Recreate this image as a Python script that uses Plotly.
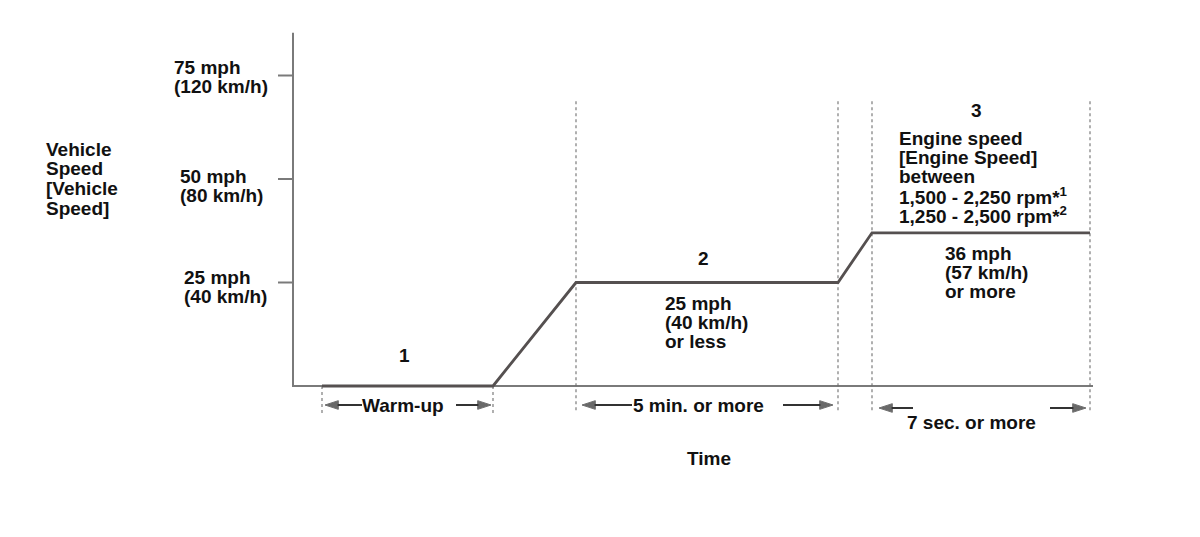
import plotly.graph_objects as go

# ---------------- data ----------------
# time axis in arbitrary units (0 = y axis), speed in mph
profile_time = [29, 200, 283, 545, 579, 797]
profile_speed = [0, 0, 25, 25, 37, 37]

short_guides = [29, 200]             # phase 1 boundaries (drawn only below the axis)
tall_guides = [283, 545, 579, 797]   # phase 2 / 3 boundaries
guide_top = 68.8
guide_bottom = -6.5

axis_x_end = 800
axis_y_end = 85.3

tick_values = [75, 50, 25]
tick_labels = [["75 mph", "(120 km/h)"], ["50 mph", "(80 km/h)"], ["25 mph", "(40 km/h)"]]

y_title = ["Vehicle", "Speed", "[Vehicle", "Speed]"]
x_title = "Time"

phase_numbers = ["1", "2", "3"]
phase2_text = ["25 mph", "(40 km/h)", "or less"]
phase3_text = ["Engine speed", "[Engine Speed]", "between",
               "1,500 - 2,250 rpm*<sup>1</sup>", "1,250 - 2,500 rpm*<sup>2</sup>"]
phase3_speed = ["36 mph", "(57 km/h)", "or more"]
duration_labels = ["Warm-up", "5 min. or more", "7 sec. or more"]

# ---------------- layout helpers ----------------
PAGE_OFF = 8                      # default body margin of the html page
W, H = 1200 - 2 * PAGE_OFF, 537 - 2 * PAGE_OFF
X0, Y0 = 293 - PAGE_OFF, 386 - PAGE_OFF   # figure pixel of the origin
PX_PER_MPH = 4.14
FONT = "Liberation Sans, Arial, sans-serif"
FS = 19
TXT = "#111111"
LINE = "#555050"
AXIS = "#7a7a7a"
GUIDE = "#6f6f6f"


def dx(px):  # page pixel -> data x
    return px - PAGE_OFF - X0


def dy(py):  # page pixel -> data y
    return (Y0 - (py - PAGE_OFF)) / PX_PER_MPH


fig = go.Figure()

# axes
fig.add_trace(go.Scatter(x=[0, 0, axis_x_end], y=[axis_y_end, 0, 0], mode="lines",
                         line=dict(color=AXIS, width=2), hoverinfo="skip", showlegend=False))
# ticks
for v in tick_values:
    fig.add_trace(go.Scatter(x=[-15, 0], y=[v, v], mode="lines",
                             line=dict(color=AXIS, width=2), hoverinfo="skip", showlegend=False))

# guides
for g in short_guides:
    fig.add_trace(go.Scatter(x=[g, g], y=[0, guide_bottom], mode="lines",
                             line=dict(color=GUIDE, width=1.1, dash="dot"),
                             hoverinfo="skip", showlegend=False))
for g in tall_guides:
    fig.add_trace(go.Scatter(x=[g, g], y=[guide_top, guide_bottom], mode="lines",
                             line=dict(color=GUIDE, width=1.1, dash="dot"),
                             hoverinfo="skip", showlegend=False))

# speed profile
fig.add_trace(go.Scatter(x=profile_time, y=profile_speed, mode="lines",
                         line=dict(color=LINE, width=2.8), hoverinfo="skip", showlegend=False))

ann = []


def block(lines, px, py_first, spacing=19.3, xanchor="left"):
    for i, t in enumerate(lines):
        ann.append(dict(x=dx(px), y=dy(py_first + i * spacing), xref="x", yref="y",
                        text="<b>" + t + "</b>", showarrow=False, xanchor=xanchor,
                        yanchor="middle", font=dict(family=FONT, size=FS, color=TXT)))


# tick labels
block(tick_labels[0], 172, 67)
block(tick_labels[1], 178, 176)
block(tick_labels[2], 182, 277)
# y title
block(y_title, 44, 149, spacing=19.7)
# x title
block([x_title], 709, 458, xanchor="center")

# phase numbers
block([phase_numbers[0]], 404, 355, xanchor="center")
block([phase_numbers[1]], 703, 258, xanchor="center")
block([phase_numbers[2]], 976, 110, xanchor="center")

block(phase2_text, 663, 303)
block(phase3_text, 897, 138)
block(phase3_speed, 943, 253)

# duration labels
block([duration_labels[0]], 403, 405, xanchor="center")
block([duration_labels[1]], 698, 405, xanchor="center")
block([duration_labels[2]], 971, 422, xanchor="center")

# arrows (tail, tip) along the bottom, page pixels
arrows = [((362, 405), (325, 405)), ((456, 405), (491, 405)),
          ((632, 405), (582, 405)), ((783, 405), (833, 405)),
          ((913, 408), (879, 408)), ((1050, 408), (1086, 408))]
for (sx, sy), (tx, ty) in arrows:
    fig.add_trace(go.Scatter(
        x=[dx(sx), dx(tx)], y=[dy(sy), dy(ty)], mode="lines+markers",
        line=dict(color="#333333", width=2),
        marker=dict(symbol=["circle", "arrow"], size=[0, 14], color="#2a2a2a",
                    angleref="previous", standoff=0),
        hoverinfo="skip", showlegend=False))

fig.update_layout(
    width=W, height=H, autosize=False,
    margin=dict(l=0, r=0, t=0, b=0),
    paper_bgcolor="white", plot_bgcolor="white",
    xaxis=dict(range=[-X0, W - X0], visible=False, fixedrange=True),
    yaxis=dict(range=[(Y0 - H) / PX_PER_MPH, Y0 / PX_PER_MPH], visible=False, fixedrange=True),
    annotations=ann,
    showlegend=False,
)

fig.write_html("out.html")
